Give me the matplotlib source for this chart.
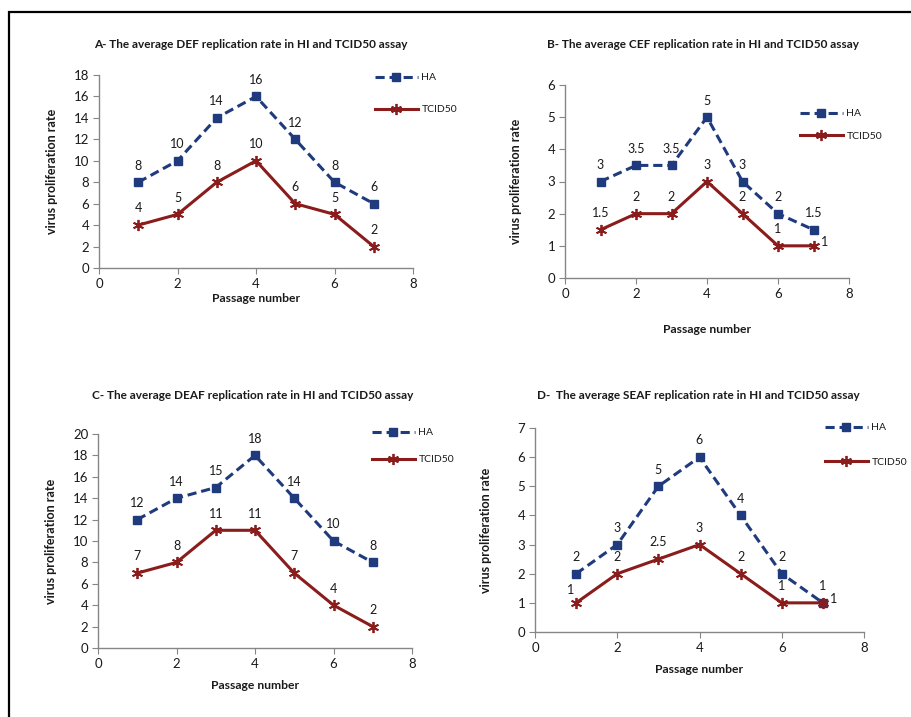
import matplotlib.pyplot as plt
from matplotlib.patches import Rectangle

# passage numbers shared by all four panels
passage = [1, 2, 3, 4, 5, 6, 7]

# A - DEF
def_ha = [8, 10, 14, 16, 12, 8, 6]
def_tcid = [4, 5, 8, 10, 6, 5, 2]
# B - CEF
cef_ha = [3, 3.5, 3.5, 5, 3, 2, 1.5]
cef_tcid = [1.5, 2, 2, 3, 2, 1, 1]
# C - DEAF
deaf_ha = [12, 14, 15, 18, 14, 10, 8]
deaf_tcid = [7, 8, 11, 11, 7, 4, 2]
# D - SEAF
seaf_ha = [2, 3, 5, 6, 4, 2, 1]
seaf_tcid = [1, 2, 2.5, 3, 2, 1, 1]

titles = [
    "A- The average DEF replication rate in HI and TCID50 assay",
    "B- The average CEF replication rate in HI and TCID50 assay",
    "C- The average DEAF replication rate in HI and TCID50 assay",
    "D-  The average SEAF replication rate in HI and TCID50 assay",
]
y_max = [18, 6, 20, 7]
y_step = [2, 1, 2, 1]

HA_COLOR = '#1F3B7D'
TC_COLOR = '#8B1C1C'
SPINE = '#868686'
TXT = '#1A1A1A'

W, H = 911, 717
plt.rcParams['font.family'] = ['Lato', 'DejaVu Sans']

fig = plt.figure(figsize=(W / 100, H / 100), dpi=100)
fig.patch.set_facecolor('white')


def px_box(l, t, r, b):
    return [l / W, 1 - b / H, (r - l) / W, (b - t) / H]


# axes boxes in pixels (left, top, right, bottom)
boxes = [(99, 75, 413, 268), (565, 85, 849, 278), (98, 434, 412, 648), (535, 428, 864, 632)]
title_pos = [(251, 45), (703, 45), (253, 395), (698, 395)]
legend_pos = [(375, 73, 2.2), (800, 109, 1.3), (372, 428, 1.7), (825, 423, 2.45)]
ylabel_x = [-0.13, -0.151, -0.13, -0.131]
xlabel_y = [-0.127, -0.238, -0.150, -0.157]

series = [(def_ha, def_tcid), (cef_ha, cef_tcid), (deaf_ha, deaf_tcid), (seaf_ha, seaf_tcid)]

star = (6, 2, 0)

for i, (ha, tc) in enumerate(series):
    ax = fig.add_axes(px_box(*boxes[i]))
    ax.plot(passage, ha, linestyle=(0, (3, 1.6)), color=HA_COLOR, lw=2.2,
            marker='s', ms=5.5, label='HA', zorder=3)
    ax.plot(passage, tc, linestyle='-', color=TC_COLOR, lw=2.2,
            marker=star, ms=8, mew=1.3, label='TCID50', zorder=3)

    for x, v in zip(passage, ha):
        ax.annotate(f"{v:g}", (x, v), xytext=(0, 12), textcoords='offset points',
                    ha='center', va='center', fontsize=9, color=TXT)
    for j, (x, v) in enumerate(zip(passage, tc)):
        off = (0, 12)
        if i in (1, 3) and j == 6:
            off = (8, 3)
        elif i == 3 and j == 0:
            off = (-4, 9)
        ax.annotate(f"{v:g}", (x, v), xytext=off, textcoords='offset points',
                    ha='center', va='center', fontsize=9, color=TXT)

    ax.set_xlim(0, 8)
    ax.set_ylim(0, y_max[i])
    ax.set_xticks(range(0, 9, 2))
    ax.set_yticks(range(0, y_max[i] + 1, y_step[i]))
    for s in ('top', 'right'):
        ax.spines[s].set_visible(False)
    for s in ('left', 'bottom'):
        ax.spines[s].set_color(SPINE)
        ax.spines[s].set_linewidth(1)
    ax.tick_params(direction='out', length=4, color=SPINE, labelsize=9.5,
                   labelcolor=TXT, pad=3)

    ax.set_ylabel('virus proliferation rate', fontsize=9, fontweight='bold', color=TXT)
    ax.yaxis.set_label_coords(ylabel_x[i], 0.5)
    ax.set_xlabel('Passage number', fontsize=8.7, fontweight='bold', color=TXT)
    ax.xaxis.set_label_coords(0.5, xlabel_y[i])

    tx, ty = title_pos[i]
    fig.text(tx / W, 1 - ty / H, titles[i], ha='center', va='center',
             fontsize=8.5, fontweight='bold', color=TXT)

    lx, ly, sp = legend_pos[i]
    leg = ax.legend(loc='upper left', bbox_to_anchor=(lx / W, 1 - ly / H),
                    bbox_transform=fig.transFigure, frameon=False, fontsize=7.5,
                    borderpad=0, borderaxespad=0, handlelength=4.1,
                    handletextpad=0.35, labelspacing=sp)
    for t in leg.get_texts():
        t.set_color(TXT)

# outer frame
fig.patches.append(Rectangle((9 / W, -0.1), 1.2, 1 - 12 / H + 0.1, transform=fig.transFigure,
                             fill=False, edgecolor='black', lw=1.6))

fig.savefig('out.png', dpi=100, facecolor='white')
